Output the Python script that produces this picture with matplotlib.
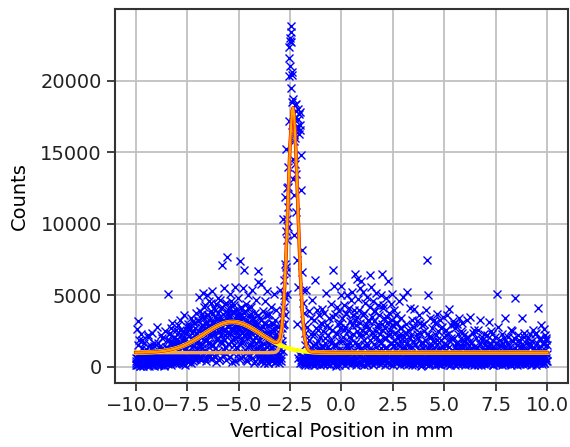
import matplotlib.pyplot as plt
import numpy as np

# measured counts, one value every 0.025 mm from -10 mm to +10 mm
counts_left = [
    420, 150, 2650, 610, 3200, 880, 240, 1900, 530, 70, 2300, 760, 310, 1350, 650, 90, 480, 1700, 220, 700,
    1250, 380, 560, 2100, 130, 820, 440, 1550, 270, 640, 950, 190, 2400, 510, 730, 60, 1450, 350, 880, 1100,
    600, 2800, 230, 470, 1650, 780, 120, 950, 540, 2200, 330, 690, 1300, 410, 850, 170, 2500, 620, 1400, 300,
    750, 1850, 5100, 450, 2300, 980, 1600, 260, 2700, 690, 1200, 3100, 520, 1750, 880, 2050, 340, 1500, 2600, 720,
    1950, 420, 1100, 2900, 640, 1700, 3300, 870, 2200, 530, 1400, 2500, 180, 1850, 3600, 760, 1250, 2350, 590, 2800,
    1050, 3000, 450, 2150, 1600, 820, 2650, 3400, 680, 1900, 2400, 950, 3200, 1450, 580, 2750, 1800, 3800, 730, 2300,
    2400, 850, 3300, 1600, 4900, 2100, 600, 2800, 3700, 1300, 5200, 2500, 980, 3400, 1850, 4300, 2700, 420, 3100, 5000,
    1700, 3600, 2200, 4600, 750, 2900, 3900, 1500, 5300, 2600, 3200, 1100, 4100, 2300, 3500, 680, 2750, 4400, 1900, 3000,
    3800, 2450, 520, 4700, 3300, 1800, 2900, 4200, 7100, 2600, 3700, 1200, 5500, 3100, 2200, 4500, 900, 3400, 7700, 2800,
    4000, 1600, 3500, 5100, 2400, 3000, 4600, 350, 2700, 3800, 1900, 4300, 3200, 2500, 5600, 1400, 3600, 2900, 4800, 2100,
    3300, 580, 7400, 2600, 4100, 3700, 1700, 2900, 5500, 3400, 6800, 2200, 1000, 3900, 2750, 4400, 450, 3100, 2300, 5000,
    1500, 3600, 2700, 780, 4200, 2400, 3300, 5400, 1900, 2900, 250, 3800, 2100, 4700, 1300, 3000, 2500, 5900, 6700, 1800,
    2600, 900, 3400, 5800, 1500, 2200, 450, 3900, 2800, 1200, 3100, 4600, 700, 2400, 3600, 1800, 5300, 300, 2900, 1600,
    3700, 850, 2300, 4200, 1400, 560, 3000, 1900, 5100, 2500, 380, 3300, 1700, 4000, 620, 2100, 1300, 2800, 480, 1600,
]
counts_peak = [
    5350, 1200, 2300, 650, 3400, 1800, 10360, 2900, 4190, 6050, 11870, 3600, 6630, 15250, 8900, 5120, 12600, 9800, 22350, 21600,
    23000, 22690, 23790, 20600, 20370, 13150, 18740, 15800, 9200, 14200, 18270, 10800, 18390, 3030, 16800, 18040, 5590, 17690, 16300, 17800,
    16530, 12340, 700, 6630, 400, 5350, 250, 3800, 550, 2400, 150, 900, 5350, 400, 1700, 700, 3900, 300, 1200, 500,
]
counts_right = [
    700, 2300, 4660, 350, 1500, 900, 3300, 150, 6050, 1100, 500, 2700, 4000, 250, 1800, 800, 3600, 1300, 420, 2100,
    3100, 600, 4080, 1400, 200, 2500, 900, 3800, 1650, 450, 5200, 1000, 2900, 300, 2200, 750, 3420, 1250, 550, 4400,
    1900, 350, 2600, 800, 6750, 5630, 1500, 3700, 650, 2400, 100, 4200, 1100, 3000, 500, 1800, 3900, 850, 2700, 5000,
    5630, 1200, 3400, 600, 2100, 4300, 900, 2800, 350, 3700, 1600, 5000, 750, 2500, 4100, 1300, 450, 3200, 2000, 4700,
    5240, 1000, 3600, 2300, 650, 4000, 6520, 1700, 2900, 300, 6170, 3500, 1400, 4770, 2200, 800, 3100, 5500, 1100, 6000,
    2600, 5240, 550, 3800, 1900, 4500, 900, 3000, 2400, 200, 4900, 1500, 3300, 700, 2700, 6400, 4200, 1200, 5590, 3500,
    850, 2100, 4600, 1600, 3200, 400, 3900, 2500, 5200, 1000, 2800, 4300, 650, 1800, 3600, 2300, 5000, 1300, 6520, 3000,
    500, 4100, 2000, 3400, 900, 2700, 4800, 1400, 3100, 250, 2200, 5980, 1100, 3800, 700, 2600, 4400, 1700, 3300, 5120,
    800, 2900, 1500, 4000, 350, 2400, 3600, 1200, 600, 3100, 2000, 4600, 950, 2700, 1800, 450, 3400, 1300, 2200, 700,
    4890, 600, 2100, 1300, 350, 3000, 900, 5240, 1700, 200, 2600, 750, 1400, 4100, 500, 2200, 1000, 3300, 150, 1800,
    650, 2800, 4080, 400, 1500, 950, 3200, 250, 2000, 700, 1200, 3600, 550, 2400, 100, 1700, 850, 2900, 450, 1300,
    3000, 600, 1900, 300, 3960, 1100, 7450, 800, 5010, 2300, 150, 1500, 3400, 650, 2100, 400, 1200, 2700, 900, 1800,
    350, 3100, 1000, 2200, 500, 1600, 3700, 200, 2500, 750, 1300, 3300, 450, 1900, 950, 2800, 250, 1400, 3500, 600,
    2100, 1100, 300, 2600, 800, 3610, 1500, 450, 2300, 1000, 4080, 150, 1800, 2900, 650, 1200, 3200, 400, 2000, 850,
    1400, 2700, 550, 1700, 3000, 250, 1100, 2300, 700, 3400, 1500, 350, 2500, 900, 1900, 3100, 500, 1300, 2200, 800,
    600, 1800, 300, 1200, 3260, 800, 2100, 450, 1500, 200, 3490, 950, 1700, 350, 700, 2400, 1100, 500, 1400, 250,
    900, 2000, 400, 1300, 650, 2600, 150, 1000, 550, 1600, 3260, 300, 750, 1900, 450, 1200, 850, 2300, 200, 1500,
    600, 1100, 350, 2200, 800, 1400, 3140, 250, 950, 1700, 500, 2500, 700, 1300, 150, 1800, 650, 1000, 400, 2100,
    850, 300, 5120, 1200, 550, 2790, 1500, 200, 1000, 1900, 700, 450, 2300, 1100, 600, 1600, 350, 900, 3450, 1300,
    500, 1700, 250, 800, 2100, 1000, 400, 1400, 650, 2600, 150, 1200, 750, 1800, 350, 950, 2000, 550, 4820, 1100,
    300, 1500, 700, 2200, 450, 1000, 1900, 200, 850, 1300, 600, 3450, 1600, 400, 900, 2400, 250, 1100, 750, 1700,
    500, 1200, 2000, 350, 800, 1500, 600, 2300, 150, 1000, 1800, 450, 700, 2600, 1300, 300, 950, 2280, 550, 1100,
    1700, 400, 850, 4120, 1400, 250, 2000, 700, 1100, 2900, 500, 1600, 900, 2680, 300, 1200, 2200, 650, 1900, 450,
    1500,
]

# the in-between readings (offset by half a step, 0.0125 mm)
fill_left = [
    300, 650, 120, 480, 1500, 820, 210, 560, 90, 700, 380, 1900, 150, 610, 430, 850, 260, 520, 1100, 340,
    740, 180, 590, 2200, 410, 80, 660, 300, 880, 1300, 230, 500, 720, 140, 620, 370, 1700, 450, 800, 200,
    560, 320, 900, 110, 680, 1400, 250, 470, 790, 160, 2000, 600, 350, 840, 60, 530, 1200, 280, 710, 430,
    500, 1300, 220, 780, 1900, 400, 650, 2400, 130, 860, 1500, 330, 700, 2000, 470, 950, 280, 1700, 600, 380,
    2300, 540, 820, 1100, 250, 690, 2600, 430, 1400, 770, 310, 1800, 580, 900, 2100, 160, 720, 1250, 480, 2500,
    640, 1600, 350, 880, 2800, 520, 1050, 270, 2000, 740, 1450, 420, 3100, 610, 1900, 830, 2400, 560, 1300, 950,
    1800, 3200, 700, 2500, 1400, 3900, 2100, 480, 2900, 1600, 3500, 850, 2300, 4200, 1200, 2700, 600, 3000, 1900, 3600,
    2400, 900, 3300, 1700, 2800, 4500, 560, 2200, 3700, 1500, 3100, 750, 2600, 4000, 1300, 2900, 380, 3400, 2000, 4800,
    1100, 3000, 2500, 620, 3500, 2200, 4100, 1700, 2800, 830, 3300, 1900, 2600, 4400, 1400, 3100, 500, 2400, 3800, 1600,
    2900, 3600, 700, 2300, 4300, 1800, 3200, 2600, 950, 3900, 2100, 1500, 3400, 420, 2800, 4000, 1300, 2500, 3700, 880,
    2200, 3500, 1600, 2900, 640, 4200, 2400, 1900, 3100, 780, 2700, 3800, 1200, 2300, 520, 3300, 2000, 4100, 1400, 2600,
    900, 3000, 2100, 3700, 1500, 600, 2800, 1800, 3400, 1100, 2500, 400, 3200, 1700, 2900, 820, 2200, 3600, 1300, 700,
    1900, 450, 2700, 800, 3300, 1200, 620, 2400, 300, 1600, 850, 3000, 500, 2100, 700, 1400, 3600, 250, 1800, 900,
    2500, 550, 1300, 750, 3100, 400, 2000, 950, 600, 2700, 350, 1500, 800, 2300, 450, 1100, 650, 1900, 300, 850,
]
fill_peak = [
    900, 2000, 450, 1500, 2700, 1100, 3900, 5000, 3000, 7200, 4800, 9500, 7000, 12500, 10300, 14000, 11200, 17200, 20300, 22800,
    21000, 23400, 19500, 16900, 18500, 17100, 14500, 16200, 12000, 17400, 16000, 13500, 17900, 7500, 16600, 600, 17300, 900, 16900, 300,
    14800, 500, 8200, 350, 4500, 700, 2900, 200,
]
fill_right = [
    600, 1500, 250, 850, 2800, 400, 700, 150, 1900, 550, 320, 950, 3400, 480, 200, 780, 1200, 350, 650, 2300,
    450, 900, 180, 1600, 620, 300, 2600, 750, 520, 110, 1100, 400, 880, 3000, 260, 680, 1400, 540, 190, 800,
    2000, 360, 620, 1300, 220, 850, 470, 2700, 580, 140, 960, 1700, 410, 720, 280, 3500, 640, 1000, 330, 560,
    1500, 240, 870, 2300, 490, 700, 160, 1200, 600, 3100, 380, 820, 1800, 250, 540, 1050, 2600, 430, 690, 120,
    900, 3800, 510, 1400, 300, 760, 2100, 440, 620, 1700, 200, 980, 2900, 570, 350, 1200, 800, 3300, 460, 150,
    1000, 2500, 600, 280, 1600, 720, 4000, 390, 860, 1300, 230, 2200, 640, 480, 3600, 170, 940, 1500, 560, 310,
    2800, 740, 420, 1100, 190, 3200, 590, 880, 1900, 330, 650, 2400, 120, 1000, 500, 3900, 760, 270, 1400, 620,
    2100, 380, 800, 3000, 450, 1200, 210, 700, 1700, 560, 2600, 290, 920, 4300, 410, 640, 1300, 150, 2000, 530,
    860, 3500, 320, 1100, 670, 2300, 240, 780, 1600, 470, 2900, 130, 950, 600, 1900, 360, 720, 3100, 510, 1000,
    280, 1500, 640, 2200, 430, 830, 170, 2700, 550, 990, 360, 1300, 700, 210, 1800, 480, 900, 2400, 300, 650,
    1100, 420, 780, 190, 2000, 560, 870, 340, 1400, 620, 2800, 250, 700, 470, 1600, 130, 930, 380, 2300, 590,
    820, 260, 1200, 450, 680, 3100, 310, 900, 540, 150, 1700, 740, 400, 2500, 600, 220, 1000, 480, 860, 1300,
    350, 700, 2100, 180, 560, 940, 420, 1500, 270, 790, 620, 3300, 330, 880, 140, 1100, 510, 750, 1900, 400,
    640, 230, 1200, 830, 470, 2700, 150, 690, 380, 1000, 560, 1600, 290, 850, 440, 2200, 710, 200, 950, 580,
    1400, 330, 760, 120, 2000, 520, 870, 410, 1100, 260, 680, 3000, 490, 170, 920, 640, 1700, 360, 800, 240,
    560, 1300, 430, 730, 190, 2400, 610, 300, 980, 470, 1500, 820, 150, 650, 2000, 380, 910, 540, 260, 1200,
    700, 420, 1800, 200, 860, 560, 310, 1100, 640, 2600, 170, 780, 450, 990, 330, 1400, 590, 240, 830, 500,
    1600, 380, 720, 140, 940, 2100, 460, 610, 280, 1200, 800, 350, 530, 1800, 210, 670, 900, 430, 1400, 580,
    250, 760, 1000, 390, 620, 2300, 170, 850, 480, 1300, 300, 700, 560, 1700, 220, 930, 410, 650, 1100, 340,
    790, 520, 1500, 160, 680, 890, 360, 2000, 470, 610, 230, 1200, 740, 400, 950, 280, 1600, 560, 830, 190,
    640, 1100, 330, 720, 2500, 450, 870, 210, 580, 1300, 390, 690, 150, 960, 1800, 510, 270, 760, 420, 1000,
    300, 830, 600, 1400, 180, 700, 490, 2100, 350, 920, 560, 230, 1200, 660, 410, 800, 1700, 270, 540, 940,
    370, 1500, 620, 200, 850, 480, 1100, 320, 710, 2400, 150, 590, 900, 430, 1300, 260, 780, 550, 1900, 340,
    680, 1000, 220, 820, 450, 1600, 300, 740, 560, 2000, 390, 900,
]

# fitted curve (total and its two components)
fit_x = [-10, -9.75, -9.5, -9.25, -9, -8.75, -8.5, -8.25, -8, -7.75, -7.5, -7.25, -7, -6.75, -6.5, -6.25,
         -6, -5.75, -5.5, -5.25, -5, -4.75, -4.5, -4.25, -4, -3.75, -3.5, -3.3, -3.2, -3.1, -3.0, -2.9,
         -2.8, -2.7, -2.6, -2.5, -2.4, -2.35, -2.3, -2.2, -2.1, -2.0, -1.9, -1.8, -1.7, -1.6, -1.5, -1.4,
         -1.2, -1.0, -0.5, 0, 10]
fit_total = [1006, 1012, 1021, 1036, 1059, 1094, 1146, 1219, 1317, 1445, 1603, 1793, 2006, 2238, 2473, 2696,
             2890, 3039, 3128, 3149, 3100, 2986, 2817, 2610, 2380, 2144, 1918, 1760, 1713, 1748, 2019, 2819,
             4563, 7559, 11567, 15531, 17902, 18109, 17581, 14703, 10544, 6610, 3795, 2197, 1457, 1172, 1074, 1045,
             1026, 1017, 1005, 1000, 1000]
fit_broad = [1006, 1012, 1021, 1036, 1059, 1094, 1146, 1219, 1317, 1445, 1603, 1793, 2006, 2238, 2473, 2696,
             2890, 3039, 3128, 3149, 3100, 2986, 2817, 2610, 2380, 2144, 1918, 1752, 1676, 1603, 1536, 1474,
             1417, 1364, 1317, 1275, 1236, 1219, 1202, 1172, 1146, 1123, 1103, 1086, 1072, 1059, 1049, 1040,
             1026, 1017, 1005, 1000, 1000]
fit_narrow = [1000] * 27 + [1008, 1037, 1145, 1483, 2345,
              4146, 7195, 11250, 15256, 17666, 17890, 17379, 14531, 10398, 6487, 3692, 2111, 1385, 1113, 1025, 1005,
              1000, 1000, 1000, 1000, 1000]

counts = np.array(counts_left + counts_peak + counts_right)
pos = np.linspace(-10, 10, len(counts))
fill = np.array(fill_left + fill_peak + fill_right)
pos_fill = np.linspace(-10 + 0.0125, 10 - 0.0125, len(fill))

plt.rcParams['font.family'] = 'DejaVu Sans'
fig, ax = plt.subplots(figsize=(5.70, 4.47), dpi=100)
fig.subplots_adjust(left=0.202, right=0.996, top=0.979, bottom=0.143)

ax.plot(np.concatenate([pos, pos_fill]), np.concatenate([counts, fill]), 'x',
        color='blue', ms=6, mew=1.0, zorder=2)
ax.plot(fit_x, fit_narrow, color='#f5a54a', lw=2.5, zorder=3)
ax.plot(fit_x, fit_broad, color='yellow', lw=3.2, zorder=4)
ax.plot(fit_x, fit_total, color='red', lw=2.4, zorder=5)
ax.plot(fit_x, fit_total, color='orange', lw=1.6, zorder=6)

ax.set_xticks([-10, -7.5, -5, -2.5, 0, 2.5, 5, 7.5, 10])
ax.set_yticks([0, 5000, 10000, 15000, 20000])
ax.grid(True, color='#c0c0c0', lw=1.3)
ax.set_axisbelow(True)
ax.tick_params(labelsize=14, length=6, width=1.2, colors='#222222')
for s in ax.spines.values():
    s.set_linewidth(1.5)
    s.set_color('#333333')
ax.set_xlabel('Vertical Position in mm', fontsize=14, labelpad=5)
ax.set_ylabel('Counts', fontsize=14, labelpad=8)

plt.savefig('out.png')
